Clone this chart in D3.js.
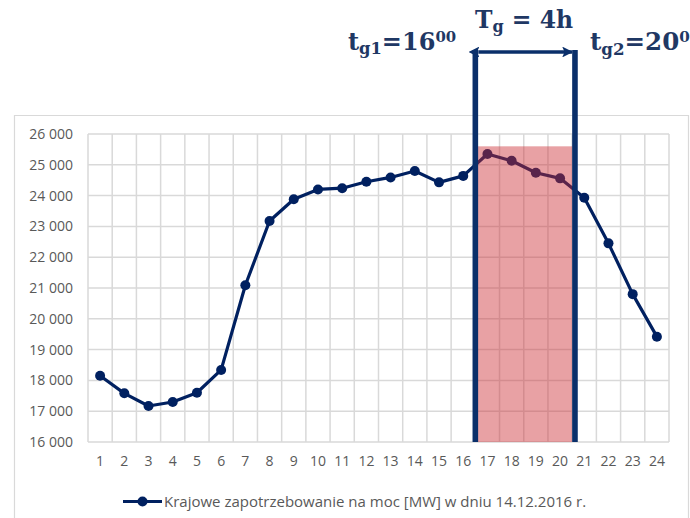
<!DOCTYPE html>
<html>
<head>
<meta charset="utf-8">
<script src="https://cdn.jsdelivr.net/npm/d3@7"></script>
<style>
  html, body { margin: 0; padding: 0; background: #ffffff; }
  svg { display: block; }
</style>
</head>
<body>
<svg id="chart" width="690" height="518"></svg>
<script>
// ---- data ----
const hours = [1,2,3,4,5,6,7,8,9,10,11,12,13,14,15,16,17,18,19,20,21,22,23,24];
const demand = [18150,17580,17170,17300,17600,18340,21090,23175,23880,24200,24240,24450,
                24590,24800,24430,24640,25350,25130,24740,24560,23930,22450,20800,19420];
const yTicks = [16000,17000,18000,19000,20000,21000,22000,23000,24000,25000,26000];
const peakStartHour = 16;   // t_g1
const peakEndHour = 20;     // t_g2
const peakBandTop = 25600;
const seriesName = "Krajowe zapotrzebowanie na moc [MW] w dniu 14.12.2016 r.";

// ---- layout ----
const svg = d3.select("#chart");
const plot = { left: 88, right: 669, top: 134, bottom: 442 };
const navy = "#002060";
const barColor = "#0a2f6a";
const textNavy = "#1f3864";
const gridColor = "#d9d9d9";
const labelColor = "#595959";

const x = d3.scaleBand().domain(hours).range([plot.left, plot.right]).paddingInner(0).paddingOuter(0);
const y = d3.scaleLinear().domain([16000, 26000]).range([plot.bottom, plot.top]);
const boundary = h => x(h) + x.bandwidth(); // right edge of hour h

const loc = d3.formatLocale({ decimal: ",", thousands: " ", grouping: [3], currency: ["", ""] });
const fmt = loc.format(",");

// outer chart frame (top, left, right)
svg.append("path")
  .attr("d", "M14.5,518 L14.5,115.5 L688.5,115.5 L688.5,518")
  .attr("fill", "none").attr("stroke", gridColor).attr("stroke-width", 1.2);

// gridlines
const grid = svg.append("g");
grid.selectAll("line.h").data(yTicks).join("line")
  .attr("x1", plot.left).attr("x2", plot.right)
  .attr("y1", d => y(d)).attr("y2", d => y(d))
  .attr("stroke", gridColor).attr("stroke-width", 1.5);
const vEdges = [plot.left].concat(hours.map(boundary));
grid.selectAll("line.v").data(vEdges).join("line")
  .attr("x1", d => d).attr("x2", d => d)
  .attr("y1", plot.top).attr("y2", plot.bottom)
  .attr("stroke", gridColor).attr("stroke-width", 1.5);

// y axis labels
const yAxis = d3.axisLeft(y).tickValues(yTicks).tickFormat(fmt).tickSize(0).tickPadding(15);
const gy = svg.append("g").attr("transform", `translate(${plot.left},0)`).call(yAxis);
gy.select(".domain").remove();
gy.selectAll("text").attr("fill", labelColor)
  .style("font-family", "'Open Sans', sans-serif").style("font-size", "14px");

// x axis labels
const xAxis = d3.axisBottom(x).tickSize(0).tickPadding(14);
const gx = svg.append("g").attr("transform", `translate(0,${plot.bottom})`).call(xAxis);
gx.select(".domain").remove();
gx.selectAll("text").attr("fill", labelColor)
  .style("font-family", "'Open Sans', sans-serif").style("font-size", "14px");

// series line
const cx = h => x(h) + x.bandwidth() / 2;
const line = d3.line().x((d, i) => cx(hours[i])).y(d => y(d));
svg.append("path").datum(demand)
  .attr("d", line).attr("fill", "none")
  .attr("stroke", navy).attr("stroke-width", 3.2).attr("stroke-linejoin", "round");
svg.append("g").selectAll("circle").data(demand).join("circle")
  .attr("cx", (d, i) => cx(hours[i])).attr("cy", d => y(d)).attr("r", 5)
  .attr("fill", navy);

// peak band overlay (semi-transparent, drawn above the line)
const bandX0 = boundary(peakStartHour);
const bandX1 = boundary(peakEndHour);
svg.append("rect")
  .attr("x", bandX0).attr("y", y(peakBandTop))
  .attr("width", bandX1 - bandX0).attr("height", y(16000) - y(peakBandTop))
  .attr("fill", "rgb(203,41,47)").attr("fill-opacity", 0.44);

// vertical markers
const barTop = 50;
const leftBarX = bandX0;
const rightBarX = bandX1 + 2.8;
[leftBarX, rightBarX].forEach(px => {
  svg.append("line")
    .attr("x1", px).attr("x2", px).attr("y1", barTop).attr("y2", plot.bottom)
    .attr("stroke", barColor).attr("stroke-width", 5.6);
});

// double arrow
const ay = 52;
const defs = svg.append("defs");
["start", "end"].forEach(k => {
  defs.append("marker")
    .attr("id", "arr-" + k)
    .attr("viewBox", "0 0 10 10").attr("refX", k === "end" ? 9 : 1).attr("refY", 5)
    .attr("markerWidth", 3.2).attr("markerHeight", 3.2)
    .attr("markerUnits", "strokeWidth")
    .attr("orient", k === "end" ? "auto" : "auto-start-reverse")
    .append("path").attr("d", "M0,0 L10,5 L0,10 L2.2,5 Z").attr("fill", barColor);
});
svg.append("line")
  .attr("x1", leftBarX + 3).attr("x2", rightBarX - 3)
  .attr("y1", ay).attr("y2", ay)
  .attr("stroke", barColor).attr("stroke-width", 3.4)
  .attr("marker-start", "url(#arr-start)").attr("marker-end", "url(#arr-end)");

// annotation texts
const serif = "'DejaVu Serif', 'Liberation Serif', serif";
function mathText(xPos, yPos, parts, size) {
  const t = svg.append("text")
    .attr("x", xPos).attr("y", yPos)
    .attr("fill", textNavy)
    .style("font-family", serif).style("font-weight", "bold")
    .style("font-size", size + "px");
  parts.forEach(p => {
    const s = t.append("tspan").text(p.t);
    if (p.sub) s.style("font-size", (size * 0.68) + "px").attr("baseline-shift", "-28%");
    else if (p.sup) s.style("font-size", (size * 0.62) + "px").attr("baseline-shift", "55%");
    if (p.dx) s.attr("dx", p.dx);
  });
  return t;
}
mathText(348, 50, [{ t: "t" }, { t: "g1", sub: true }, { t: "=" }, { t: "16" }, { t: "00", sup: true }], 24);
mathText(475, 28, [{ t: "T" }, { t: "g", sub: true }, { t: " = 4h" }], 23.5);
mathText(590, 50, [{ t: "t" }, { t: "g2", sub: true }, { t: "=" }, { t: "20" }, { t: "0", sup: true }], 24.5);

// legend
const lg = svg.append("g");
lg.append("line").attr("x1", 123).attr("x2", 162).attr("y1", 501.5).attr("y2", 501.5)
  .attr("stroke", navy).attr("stroke-width", 3.2);
lg.append("circle").attr("cx", 142.5).attr("cy", 501.5).attr("r", 5).attr("fill", navy);
lg.append("text").attr("x", 164).attr("y", 506.5)
  .attr("fill", labelColor)
  .style("font-family", "'Open Sans', sans-serif").style("font-size", "15px")
  .text(seriesName);
</script>
</body>
</html>
